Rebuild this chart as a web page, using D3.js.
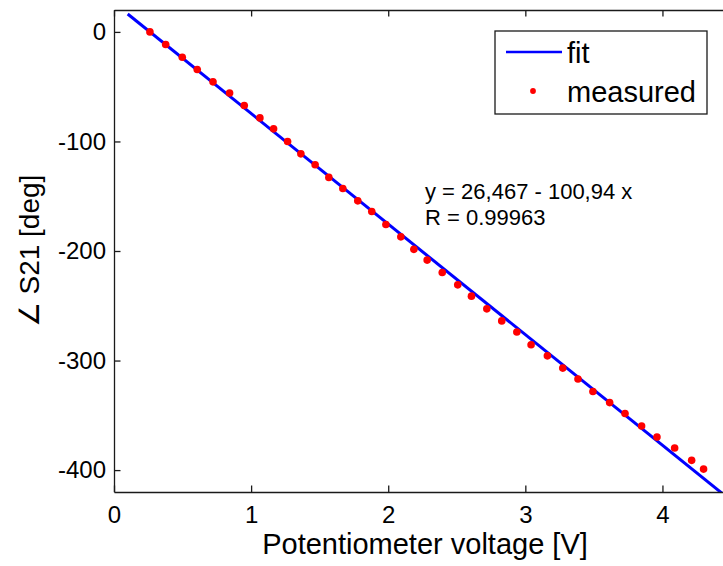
<!DOCTYPE html>
<html>
<head>
<meta charset="utf-8">
<script src="https://cdn.jsdelivr.net/npm/d3@7"></script>
<style>
  html, body { margin: 0; padding: 0; background: #fff; }
  svg { display: block; font-family: "Liberation Sans", Arial, sans-serif; }
</style>
</head>
<body>
<svg id="chart" width="723" height="566"></svg>
<script>
// ---- data ----
const measuredX = [0.262, 0.377, 0.498, 0.607, 0.722, 0.843, 0.950, 1.064, 1.164, 1.266,
                   1.363, 1.467, 1.567, 1.669, 1.778, 1.880, 1.983, 2.092, 2.187, 2.284,
                   2.394, 2.507, 2.607, 2.719, 2.828, 2.938, 3.042, 3.161, 3.273, 3.384,
                   3.493, 3.615, 3.727, 3.848, 3.960, 4.089, 4.213, 4.300];
const measuredY = [0, -11.5, -23.1, -34.3, -45.6, -55.7, -67.2, -78.5, -88.5, -100.0,
                   -111.3, -121.2, -132.8, -142.9, -154.2, -163.9, -175.8, -187.1, -198.5, -208.3,
                   -219.6, -230.9, -241.2, -252.8, -263.8, -274.0, -285.6, -295.7, -306.9, -316.9,
                   -328.2, -338.4, -348.4, -359.8, -369.9, -379.9, -391.1, -399.1];
const fitX = [0.1, 4.5];
const fitY = [16.37, -427.76];
const xTicks = [0, 1, 2, 3, 4];
const yTicks = [0, -100, -200, -300, -400];
const xTickLabels = ["0", "1", "2", "3", "4"];
const yTickLabels = ["0", "-100", "-200", "-300", "-400"];
const xDomain = [0, 4.5];
const yDomain = [-420, 20];
const legendLabels = ["fit", "measured"];
const annotationLines = ["y = 26,467 - 100,94 x", "R = 0.99963"];
const xTitle = "Potentiometer voltage [V]";
const yTitle = "\u2220 S21 [deg]";

// ---- layout ----
const svg = d3.select("#chart");
const L = 114, R = 731, T = 10, B = 492;
const x = d3.scaleLinear().domain(xDomain).range([L, R]);
const y = d3.scaleLinear().domain(yDomain).range([B, T]);
const axisColor = "#1a1a1a";

svg.append("defs").append("clipPath").attr("id", "plotclip")
  .append("rect").attr("x", L).attr("y", T).attr("width", R - L).attr("height", B - T);

// data layer
const plot = svg.append("g").attr("clip-path", "url(#plotclip)");
const fitData = fitX.map((v, i) => [v, fitY[i]]);
plot.append("path")
  .datum(fitData)
  .attr("fill", "none")
  .attr("stroke", "#0000ff")
  .attr("stroke-width", 3)
  .attr("d", d3.line().x(d => x(d[0])).y(d => y(d[1])));

plot.selectAll("circle.m")
  .data(measuredX.map((v, i) => [v, measuredY[i]]))
  .join("circle")
  .attr("class", "m")
  .attr("cx", d => x(d[0]))
  .attr("cy", d => y(d[1]))
  .attr("r", 3.8)
  .attr("fill", "#ff0000");

// axes (MATLAB-style box with inward ticks)
const tickLen = 6.5;
function styleAxis(g) {
  g.select(".domain").attr("stroke", axisColor).attr("stroke-width", 1.3);
  g.selectAll(".tick line").attr("stroke", axisColor).attr("stroke-width", 1.3);
}
const gx = svg.append("g").attr("transform", `translate(0,${B})`)
  .call(d3.axisBottom(x).tickValues(xTicks).tickSizeInner(-tickLen).tickSizeOuter(0).tickPadding(14)
    .tickFormat((d, i) => xTickLabels[i]));
styleAxis(gx);
gx.selectAll(".tick text").attr("font-size", 24).attr("fill", "#000")
  .attr("font-family", "Liberation Sans, Arial, sans-serif");

const gxt = svg.append("g").attr("transform", `translate(0,${T})`)
  .call(d3.axisTop(x).tickValues(xTicks).tickSizeInner(-tickLen).tickSizeOuter(0).tickFormat(""));
styleAxis(gxt);

const gy = svg.append("g").attr("transform", `translate(${L},0)`)
  .call(d3.axisLeft(y).tickValues(yTicks).tickSizeInner(-tickLen).tickSizeOuter(0).tickPadding(8)
    .tickFormat((d, i) => yTickLabels[i]));
styleAxis(gy);
gy.selectAll(".tick text").attr("font-size", 24).attr("fill", "#000")
  .attr("font-family", "Liberation Sans, Arial, sans-serif");

const gyr = svg.append("g").attr("transform", `translate(${R},0)`)
  .call(d3.axisRight(y).tickValues(yTicks).tickSizeInner(-tickLen).tickSizeOuter(0).tickFormat(""));
styleAxis(gyr);

// axis titles
svg.append("text")
  .attr("x", (L + 600) / 2 + 68).attr("y", 554)
  .attr("text-anchor", "middle")
  .attr("font-size", 29)
  .attr("fill", "#000")
  .text(xTitle);

svg.append("text")
  .attr("transform", `translate(39,251) rotate(-90)`)
  .attr("text-anchor", "middle")
  .attr("font-size", 28)
  .attr("fill", "#000")
  .text(yTitle);

// annotation
svg.append("g").selectAll("text")
  .data(annotationLines)
  .join("text")
  .attr("x", 425)
  .attr("y", (d, i) => 199 + i * 26)
  .attr("font-size", 22)
  .attr("fill", "#000")
  .text(d => d);

// legend
const lg = svg.append("g");
lg.append("rect")
  .attr("x", 495).attr("y", 31).attr("width", 212).attr("height", 83)
  .attr("fill", "#fff").attr("stroke", axisColor).attr("stroke-width", 1.3);
lg.append("line")
  .attr("x1", 506).attr("x2", 562).attr("y1", 52).attr("y2", 52)
  .attr("stroke", "#0000ff").attr("stroke-width", 2.5);
lg.append("circle")
  .attr("cx", 533).attr("cy", 91).attr("r", 2.9).attr("fill", "#ff0000");
lg.selectAll("text.lt")
  .data(legendLabels)
  .join("text")
  .attr("class", "lt")
  .attr("x", 567)
  .attr("y", (d, i) => [63, 102][i])
  .attr("font-size", 29)
  .attr("fill", "#000")
  .text(d => d);
</script>
</body>
</html>
